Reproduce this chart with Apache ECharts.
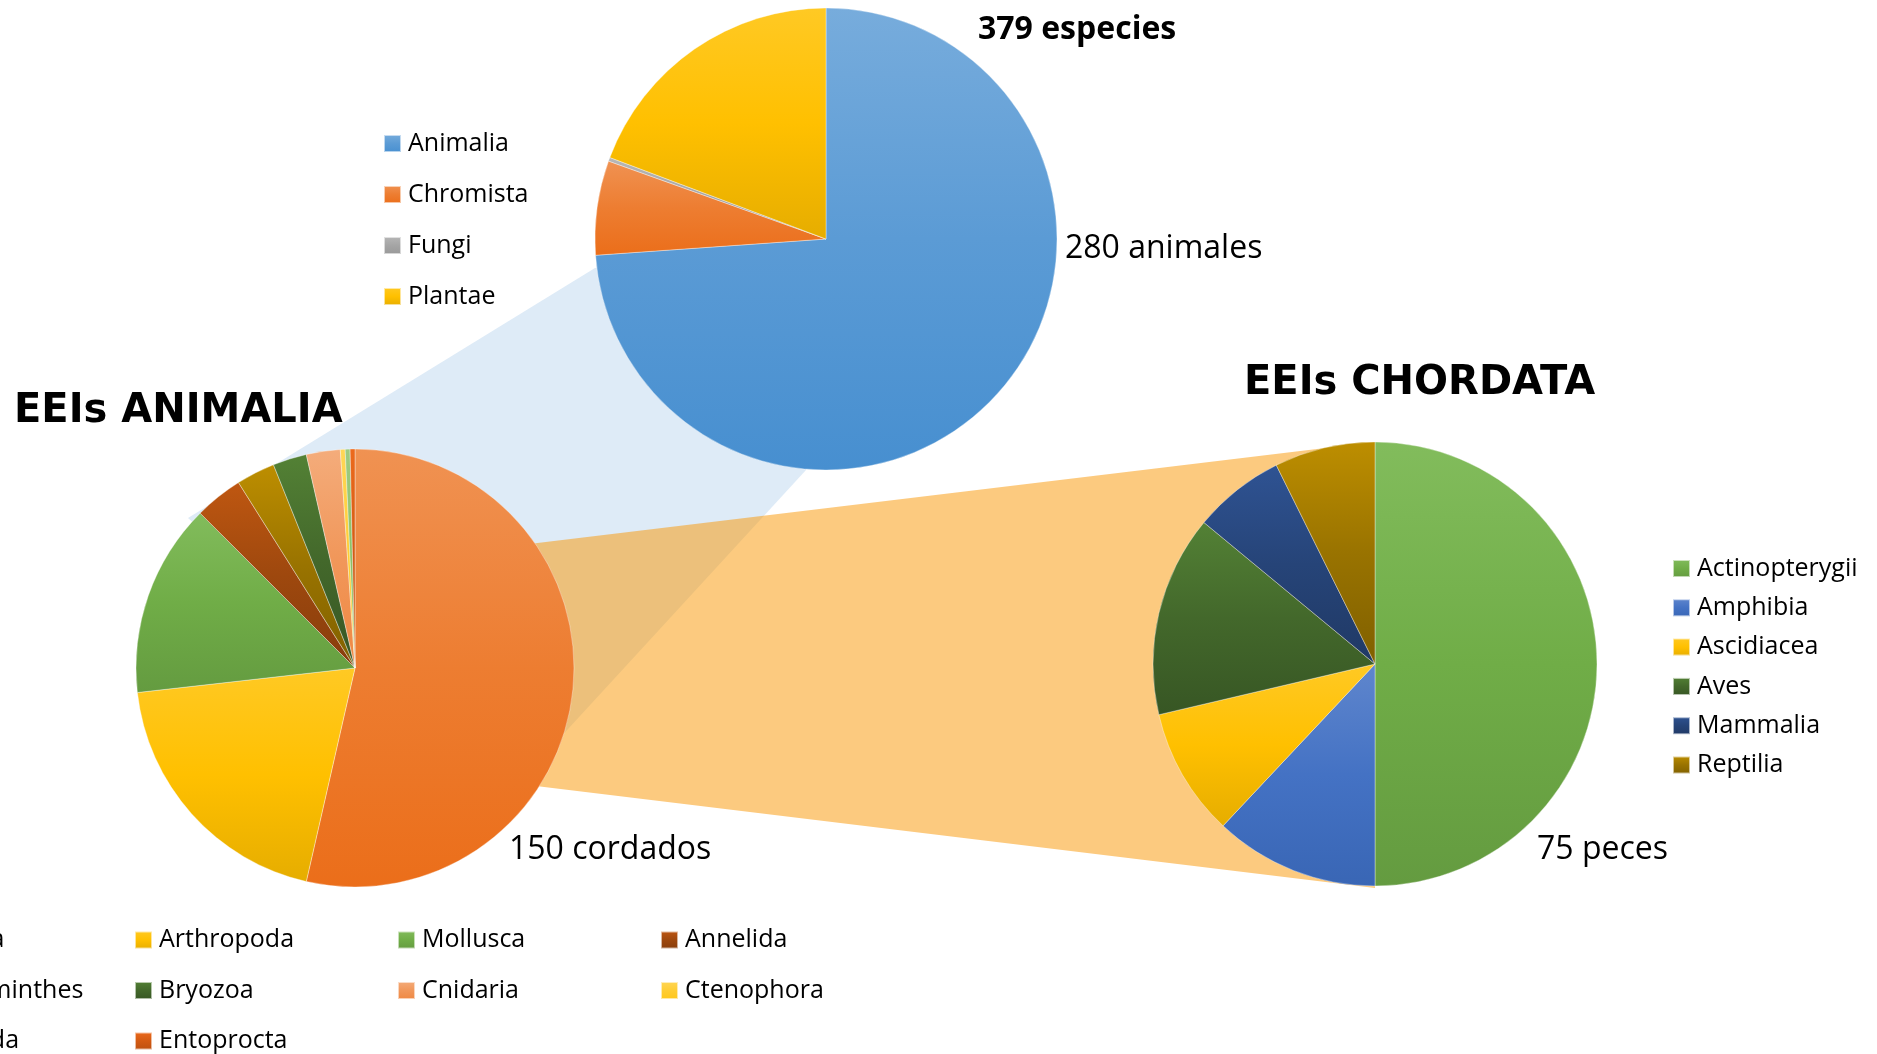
<!DOCTYPE html>
<html>
<head>
<meta charset="utf-8">
<title>EEIs</title>
<script src="https://cdn.jsdelivr.net/npm/echarts@6/dist/echarts.min.js"></script>
<style>
  html, body { margin: 0; padding: 0; background: #fff; }
  #chart { width: 1877px; height: 1054px; }
</style>
</head>
<body>
<div id="chart"></div>
<script>
// reinos (379 especies)
const kingdoms = ["Animalia", "Chromista", "Fungi", "Plantae"];
const kingdomValues = [280, 25, 1, 73];

// filos de animalia (280)
const phyla = ["Chordata", "Arthropoda", "Mollusca", "Annelida", "Platyhelminthes",
  "Bryozoa", "Cnidaria", "Ctenophora", "Nematoda", "Entoprocta"];
const phylumValues = [150, 55, 40, 10, 8, 7, 7, 1, 1, 1];

// clases de chordata (150)
const classes = ["Actinopterygii", "Amphibia", "Ascidiacea", "Aves", "Mammalia", "Reptilia"];
const classValues = [75, 18, 14, 22, 10, 11];

// colours
const kingdomColors = ["#5b9bd5", "#ed7d31", "#a5a5a5", "#ffc000"];
const phylumColors = ["#ed7d31", "#ffc000", "#70ad47", "#9e480e", "#997300",
  "#43682b", "#f1975a", "#ffcd33", "#8cc168", "#d35a12"];
const classColors = ["#70ad47", "#4472c4", "#ffc000", "#43682b", "#264478", "#997300"];

// layout of the three pies
const TOP = { cx: 826, cy: 239, r: 231 };
const LEFT = { cx: 355, cy: 668, r: 219 };
const RIGHT = { cx: 1375, cy: 664, r: 222 };

const FONT = '"Open Sans", "Noto Sans", sans-serif';

// change hsl lightness of a hex colour by dl (0..1)
function light(hex, dl) {
  const n = parseInt(hex.slice(1), 16);
  let r = ((n >> 16) & 255) / 255, g = ((n >> 8) & 255) / 255, b = (n & 255) / 255;
  const max = Math.max(r, g, b), min = Math.min(r, g, b);
  let h = 0, s = 0, l = (max + min) / 2;
  if (max !== min) {
    const d = max - min;
    s = l > 0.5 ? d / (2 - max - min) : d / (max + min);
    if (max === r) h = (g - b) / d + (g < b ? 6 : 0);
    else if (max === g) h = (b - r) / d + 2;
    else h = (r - g) / d + 4;
    h /= 6;
  }
  l = Math.min(1, Math.max(0, l + dl));
  const q = l < 0.5 ? l * (1 + s) : l + s - l * s;
  const p = 2 * l - q;
  const f = t => {
    if (t < 0) t += 1;
    if (t > 1) t -= 1;
    if (t < 1 / 6) return p + (q - p) * 6 * t;
    if (t < 1 / 2) return q;
    if (t < 2 / 3) return p + (q - p) * (2 / 3 - t) * 6;
    return p;
  };
  const c = s === 0 ? [l, l, l] : [f(h + 1 / 3), f(h), f(h - 1 / 3)];
  return "rgb(" + c.map(v => Math.round(v * 255)).join(",") + ")";
}

// excel like vertical shading
function shade(hex) {
  return new echarts.graphic.LinearGradient(0, 0, 0, 1, [
    { offset: 0, color: light(hex, 0.07) },
    { offset: 0.5, color: hex },
    { offset: 1, color: light(hex, -0.05) },
  ]);
}

function pieData(names, values, colors) {
  return names.map((name, i) => ({
    name: name,
    value: values[i],
    itemStyle: { color: shade(colors[i]) },
  }));
}

function pie(name, p, data) {
  return {
    name: name,
    type: "pie",
    center: [p.cx, p.cy],
    radius: p.r,
    startAngle: 90,
    clockwise: true,
    z: 3,
    label: { show: false },
    labelLine: { show: false },
    emphasis: { disabled: true },
    itemStyle: { borderColor: "rgba(255,255,255,0.6)", borderWidth: 0.6 },
    data: data,
  };
}

function legend(names, left, top, gap) {
  return {
    data: names,
    orient: "vertical",
    left: left,
    top: top,
    padding: 0,
    itemGap: gap,
    itemWidth: 17,
    itemHeight: 17,
    icon: "rect",
    selectedMode: false,
    textStyle: { fontFamily: FONT, fontSize: 25, color: "#000", lineHeight: 26, padding: [0, 0, 0, 2] },
  };
}

function text(str, x, y, font) {
  return {
    type: "text",
    x: x,
    y: y,
    z: 10,
    style: { text: str, font: font, fill: "#000", verticalAlign: "middle" },
  };
}

const totalSpecies = kingdomValues.reduce((a, b) => a + b, 0);

// bottom legend, 4 columns filled row by row
const phylumLegends = [0, 1, 2, 3].map(col =>
  legend(phyla.filter((n, i) => i % 4 === col), -129 + col * 263, 927, 24.5));

let option = {
  backgroundColor: "#fff",
  animation: false,
  legend: [
    legend(kingdoms, 383, 130.5, 25),
    legend(classes, 1672, 555.5, 13.3),
  ].concat(phylumLegends),
  graphic: [
    // blue band: Animalia -> EEIs ANIMALIA
    {
      type: "polygon",
      z: 0,
      shape: { points: [[595, 268], [188, 518], [LEFT.cx, LEFT.cy], [512, 790], [806, 470], [TOP.cx, TOP.cy]] },
      style: { fill: "#deebf7" },
    },
    // orange band: Chordata -> EEIs CHORDATA
    {
      type: "polygon",
      z: 1,
      shape: { points: [[LEFT.cx, 565], [RIGHT.cx, RIGHT.cy - RIGHT.r], [RIGHT.cx, RIGHT.cy + RIGHT.r + 2], [LEFT.cx, 764]] },
      style: { fill: "rgba(250,152,5,0.515)" },
    },
    text(totalSpecies + " especies", 978, 29.5, "bold 32px " + FONT),
    text(kingdomValues[0] + " animales", 1065, 248.5, "32px " + FONT),
    text(phylumValues[0] + " cordados", 509, 849.5, "32px " + FONT),
    text(classValues[0] + " peces", 1537, 849.5, "32px " + FONT),
    text("EEIs ANIMALIA", 14, 411.5, 'bold 40px "DejaVu Sans", sans-serif'),
    text("EEIs CHORDATA", 1244, 383.5, 'bold 40px "DejaVu Sans", sans-serif'),
  ],
  series: [
    pie("Reinos", TOP, pieData(kingdoms, kingdomValues, kingdomColors)),
    pie("Filos", LEFT, pieData(phyla, phylumValues, phylumColors)),
    pie("Clases", RIGHT, pieData(classes, classValues, classColors)),
  ],
};

const chart = echarts.init(document.getElementById("chart"));
chart.setOption(option, true);
</script>
</body>
</html>
